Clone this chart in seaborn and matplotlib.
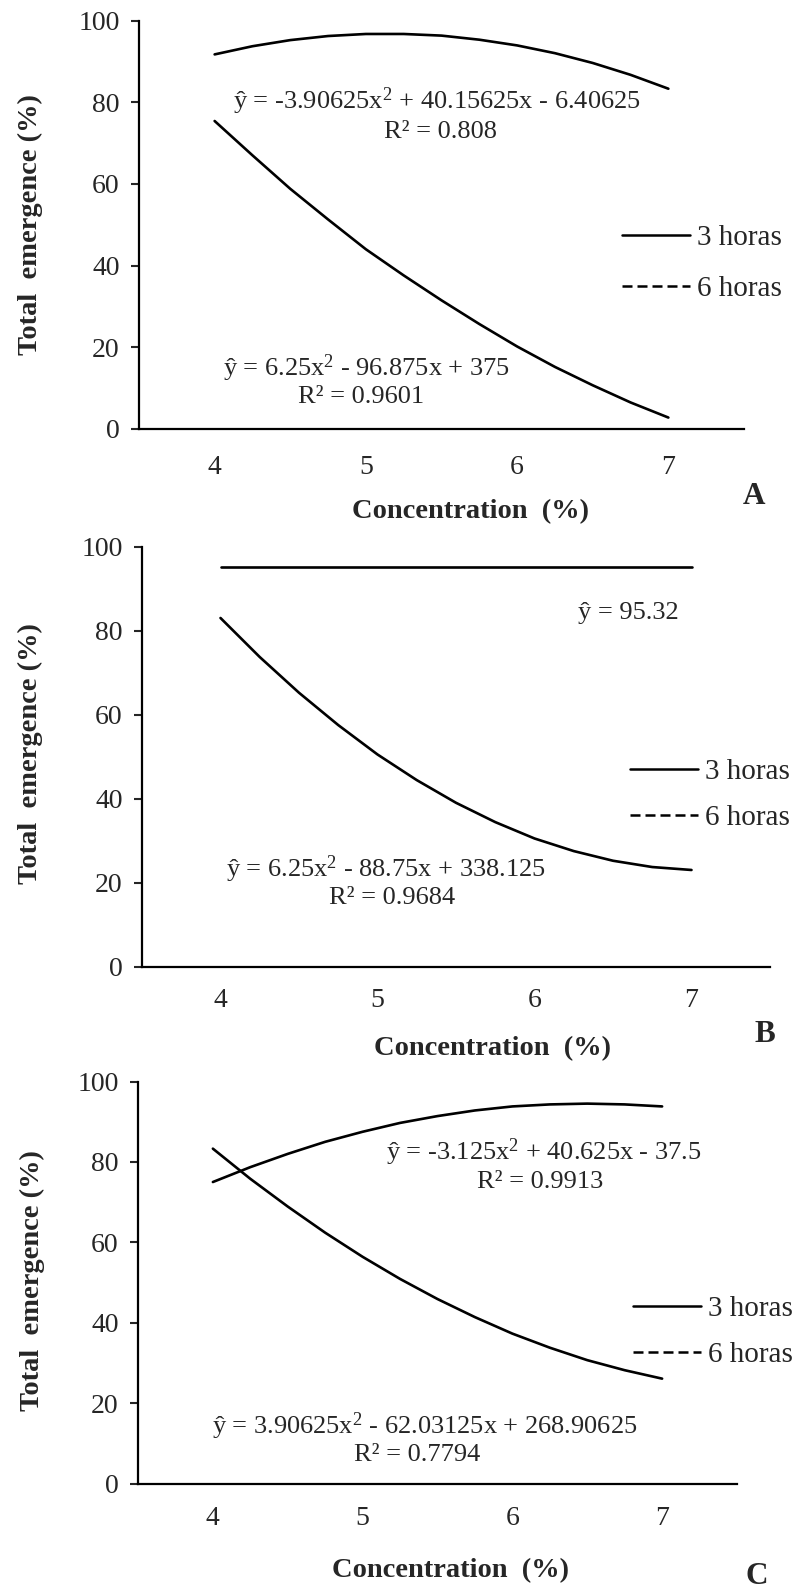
import numpy as np
import pandas as pd
import matplotlib
matplotlib.use("Agg")
import matplotlib.pyplot as plt
from matplotlib.lines import Line2D
import seaborn as sns

# ---- data ----
conc = [4.0, 4.25, 4.5, 4.75, 5.0, 5.25, 5.5, 5.75, 6.0, 6.25, 6.5, 6.75, 7.0]

a_upper = [91.7, 93.7, 95.2, 96.2, 96.7, 96.7, 96.3, 95.3, 93.9, 92.0, 89.6, 86.7, 83.3]
a_lower = [75.4, 67.0, 58.8, 51.3, 44.0, 37.6, 31.5, 25.7, 20.2, 15.2, 10.7, 6.5, 2.8]

b_upper = [95.32] * 13
b_lower = [83.1, 73.8, 65.3, 57.6, 50.6, 44.5, 39.1, 34.5, 30.6, 27.6, 25.3, 23.8, 23.1]

c_upper = [75.0, 78.7, 82.0, 85.0, 87.5, 89.7, 91.4, 92.8, 93.8, 94.3, 94.5, 94.3, 93.8]
c_lower = [83.3, 75.8, 68.9, 62.4, 56.4, 50.9, 45.9, 41.4, 37.3, 33.8, 30.7, 28.2, 26.1]

x_ticks = [4, 5, 6, 7]
y_ticks = [0, 20, 40, 60, 80, 100]
legend_labels = ["3 horas", "6 horas"]

panels = [
    dict(letter="A", upper=a_upper, lower=a_lower,
         rect=(139, 20.5, 744, 429), xpad=19,
         texts=[(r"ŷ = -3.90625x$^{2}$ + 40.15625x - 6.40625", 437, 101),
                ("R² = 0.808", 440, 132),
                (r"ŷ = 6.25x$^{2}$ - 96.875x + 375", 366, 368),
                ("R² = 0.9601", 361, 397)],
         legend=(622, 236), lspace=0.82,
         xlabel=(470, 512), letter_pos=(754, 497), ylab=(30, 225)),
    dict(letter="B", upper=b_upper, lower=b_lower,
         rect=(142, 547, 770, 967), xpad=15,
         texts=[("ŷ = 95.32", 628, 613),
                (r"ŷ = 6.25x$^{2}$ - 88.75x + 338.125", 386, 869),
                ("R² = 0.9684", 392, 898)],
         legend=(630, 770), lspace=0.65,
         xlabel=(493, 1049), letter_pos=(765, 1034), ylab=(30, 754)),
    dict(letter="C", upper=c_upper, lower=c_lower,
         rect=(138, 1081.5, 737, 1483.6), xpad=16,
         texts=[(r"ŷ = -3.125x$^{2}$ + 40.625x - 37.5", 544, 1152),
                ("R² = 0.9913", 540, 1182),
                (r"ŷ = 3.90625x$^{2}$ - 62.03125x + 268.90625", 425, 1426),
                ("R² = 0.7794", 417, 1455)],
         legend=(633, 1307), lspace=0.65,
         xlabel=(450, 1571), letter_pos=(757, 1576), ylab=(32, 1281)),
]

sns.set_theme(style="white")
plt.rcParams["font.family"] = ["Liberation Serif", "DejaVu Serif"]
plt.rcParams["mathtext.fontset"] = "custom"
plt.rcParams["mathtext.rm"] = "Liberation Serif"
plt.rcParams["mathtext.it"] = "Liberation Serif:italic"
plt.rcParams["mathtext.bf"] = "Liberation Serif:bold"

W, H = 795, 1588
fig = plt.figure(figsize=(W / 100, H / 100), dpi=100)

FS_EQ = 19
FS_TICK = 20
FS_LEG = 21
FS_LAB = 20.5

def fx(px):
    return px / W

def fy(py):
    return 1 - py / H

for p in panels:
    l, t, r, b = p["rect"]
    ax = fig.add_axes([fx(l), fy(b), (r - l) / W, (b - t) / H])
    df = pd.DataFrame({"conc": conc + conc,
                       "val": p["upper"] + p["lower"],
                       "curve": ["upper"] * len(conc) + ["lower"] * len(conc)})
    sns.lineplot(data=df, x="conc", y="val", units="curve", estimator=None,
                 color="black", linewidth=1.9, ax=ax, legend=False)
    ax.set_xlim(3.5, 7.5)
    ax.set_ylim(0, 100)
    ax.set_xticks(x_ticks)
    ax.set_yticks(y_ticks)
    ax.set_xticklabels([str(v) for v in x_ticks], fontsize=FS_TICK)
    ax.set_yticklabels([str(v) for v in y_ticks], fontsize=FS_TICK)
    ax.tick_params(axis="x", length=0, pad=p["xpad"])
    ax.tick_params(axis="y", length=6, width=1.5, direction="out", pad=8, left=True)
    for s in ["top", "right"]:
        ax.spines[s].set_visible(False)
    for s in ["left", "bottom"]:
        ax.spines[s].set_color("black")
        ax.spines[s].set_linewidth(1.6)
    ax.set_xlabel("")
    ax.set_ylabel("")
    ax.set_facecolor("white")

    for txt, x, y in p["texts"]:
        fig.text(fx(x), fy(y), txt, fontsize=FS_EQ, ha="center", va="center")

    handles = [Line2D([], [], color="black", lw=1.8, ls="-"),
               Line2D([], [], color="black", lw=1.8, ls=(0, (4, 2)))]
    lx, ly = p["legend"]
    fig.legend(handles, legend_labels, loc="upper left",
               bbox_to_anchor=(fx(lx), fy(ly - 11)), frameon=False,
               fontsize=FS_LEG, handlelength=2.33, handletextpad=0.25,
               labelspacing=p["lspace"], borderpad=0, borderaxespad=0)

    fig.text(fx(p["xlabel"][0]), fy(p["xlabel"][1]), "Concentration  (%)",
             fontsize=FS_LAB, fontweight="bold", ha="center", va="center")
    fig.text(fx(p["letter_pos"][0]), fy(p["letter_pos"][1]), p["letter"],
             fontsize=FS_LAB + 2, fontweight="bold", ha="center", va="center")
    fig.text(fx(p["ylab"][0]), fy(p["ylab"][1]), "Total  emergence (%)",
             fontsize=FS_LAB, fontweight="bold", ha="center", va="center",
             rotation=90)

fig.savefig("out.png", dpi=100, facecolor="white")
